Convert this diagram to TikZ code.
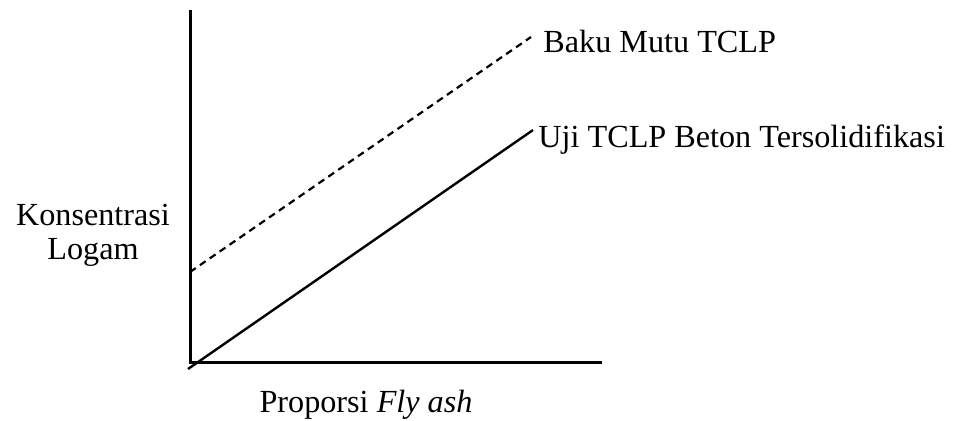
\documentclass[tikz,border=0pt]{standalone}
\usepackage{fontspec}
\setmainfont{Liberation Serif}
\begin{document}
\begin{tikzpicture}[x=0.5pt,y=-0.5pt,
  axisline/.style={line width=1.5pt},
  curveline/.style={line width=1.2pt},
  dashline/.style={line width=1.1pt,dash pattern=on 3.5pt off 2.5pt},
  lbl/.style={inner sep=0pt,font=\fontsize{16.1}{17}\selectfont}]
\useasboundingbox (0,0) rectangle (957,420);
\coordinate (ytop) at (190,10);
\coordinate (orig) at (190,362);
\coordinate (xend) at (602,362);
\coordinate (dstart) at (190,272);
\coordinate (dend) at (531,37);
\coordinate (sstart) at (188,369);
\coordinate (send) at (533,130);
\draw[axisline] (ytop) -- (orig) -- (xend);
\draw[dashline] (dstart) -- (dend);
\draw[curveline] (sstart) -- (send);
\node[lbl,anchor=base west] (baku) at (543,52) {Baku Mutu TCLP};
\node[lbl,anchor=base west] (uji) at (538,147) {Uji TCLP Beton Tersolidifikasi};
\node[lbl,anchor=base,align=center] (ylab) at (93,259) {Konsentrasi\\Logam};
\node[lbl,anchor=base] (xlab) at (366,412) {Proporsi \textit{Fly ash}};
\end{tikzpicture}
\end{document}
